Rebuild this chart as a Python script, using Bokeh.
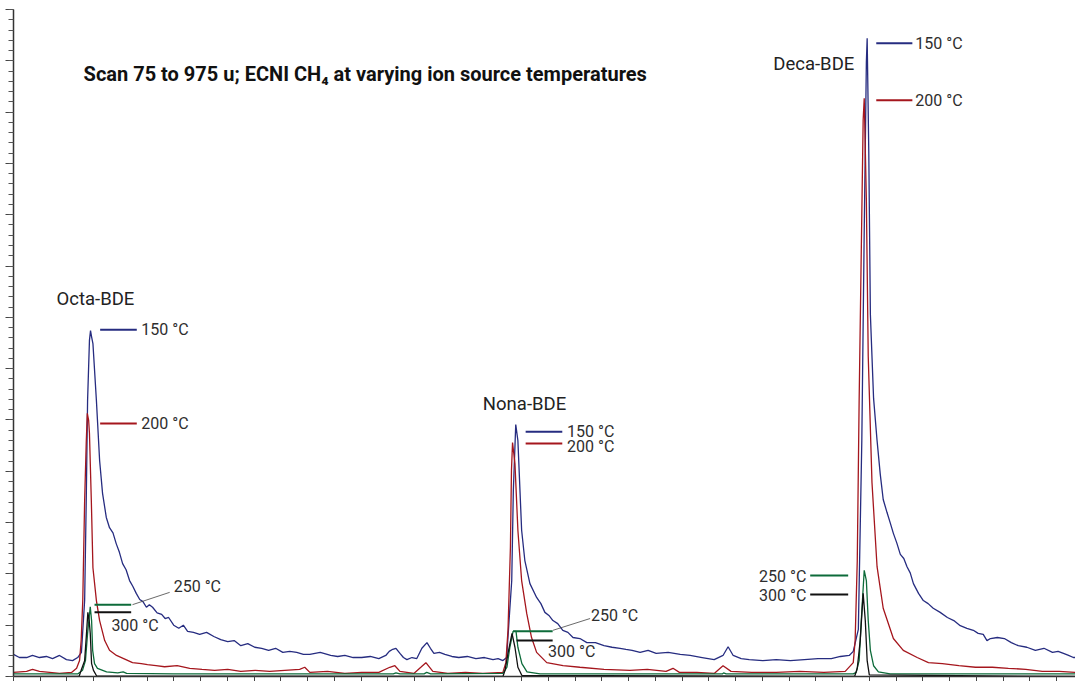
from bokeh.plotting import figure
from bokeh.models import Range1d, SingleIntervalTicker, Label, CustomJSTickFormatter
from bokeh.embed import file_html
from bokeh.resources import INLINE

# retention time (x-tick units), abundance (major y-tick units)
t150 = [(0, 0.43), (0.22, 0.37), (0.49, 0.37), (0.71, 0.41), (0.97, 0.37), (1.23, 0.39), (1.46, 0.35),
        (1.72, 0.41), (1.98, 0.33), (2.21, 0.31), (2.40, 0.37), (2.54, 0.47), (2.66, 1.48), (2.72, 3.43),
        (2.77, 5.38), (2.84, 6.55), (2.88, 6.74), (2.92, 6.62), (2.97, 6.49), (3.10, 5.38), (3.22, 4.21),
        (3.33, 3.57), (3.47, 3.10), (3.59, 2.90), (3.72, 2.80), (3.84, 2.59), (3.96, 2.42), (4.08, 2.20),
        (4.21, 2.08), (4.34, 1.87), (4.46, 1.76), (4.59, 1.62), (4.72, 1.50), (4.84, 1.46), (4.97, 1.35),
        (5.08, 1.40), (5.20, 1.35), (5.37, 1.24), (5.54, 1.21), (5.67, 1.13), (5.80, 1.15), (5.99, 1.00),
        (6.18, 0.94), (6.35, 1.00), (6.51, 0.88), (6.73, 0.86), (6.96, 0.82), (7.22, 0.86), (7.49, 0.78),
        (7.75, 0.72), (8.01, 0.68), (8.25, 0.70), (8.50, 0.60), (8.76, 0.64), (9.02, 0.57), (9.28, 0.55),
        (9.54, 0.51), (9.80, 0.55), (10.07, 0.47), (10.33, 0.49), (10.59, 0.47), (10.84, 0.43), (11.08, 0.43),
        (11.47, 0.47), (11.86, 0.41), (12.12, 0.39), (12.39, 0.41), (12.70, 0.37), (13.02, 0.37), (13.34, 0.39),
        (13.66, 0.35), (13.92, 0.41), (14.05, 0.49), (14.18, 0.53), (14.30, 0.55), (14.45, 0.45), (14.58, 0.37),
        (14.71, 0.33), (14.90, 0.37), (15.08, 0.35), (15.27, 0.55), (15.46, 0.66), (15.59, 0.55), (15.72, 0.45),
        (15.93, 0.47), (16.13, 0.43), (16.39, 0.39), (16.65, 0.37), (16.97, 0.39), (17.29, 0.35), (17.61, 0.37),
        (17.93, 0.33), (18.12, 0.35), (18.30, 0.31), (18.44, 0.37), (18.53, 1.09), (18.63, 1.87), (18.69, 3.63),
        (18.78, 4.91), (18.86, 4.60), (19.00, 2.85), (19.12, 2.26), (19.31, 1.81), (19.56, 1.54), (19.72, 1.42),
        (19.87, 1.25), (20.02, 1.19), (20.17, 1.09), (20.35, 1.03), (20.54, 0.90), (20.73, 0.86), (20.92, 0.76),
        (21.18, 0.74), (21.44, 0.66), (21.76, 0.66), (22.08, 0.60), (22.38, 0.57), (22.68, 0.55), (22.90, 0.53),
        (23.13, 0.51), (23.43, 0.47), (23.73, 0.51), (24.03, 0.45), (24.48, 0.47), (24.93, 0.43), (25.30, 0.41),
        (25.75, 0.37), (26.20, 0.33), (26.53, 0.41), (26.72, 0.58), (26.91, 0.41), (27.21, 0.35), (27.51, 0.33),
        (28.02, 0.31), (28.52, 0.33), (29.05, 0.31), (29.57, 0.33), (30.08, 0.35), (30.58, 0.35), (30.92, 0.39),
        (31.25, 0.41), (31.40, 0.49), (31.59, 0.92), (31.72, 4.60), (31.81, 8.69), (31.89, 11.97), (31.92, 12.44),
        (31.98, 10.25), (32.04, 7.06), (32.16, 5.42), (32.29, 4.60), (32.41, 3.94), (32.52, 3.45), (32.66, 3.20),
        (32.78, 3.00), (32.90, 2.79), (33.03, 2.60), (33.16, 2.38), (33.29, 2.30), (33.41, 2.14), (33.53, 2.02),
        (33.65, 1.81), (33.84, 1.62), (34.02, 1.48), (34.20, 1.42), (34.39, 1.33), (34.65, 1.25), (34.92, 1.15),
        (35.16, 1.09), (35.40, 0.99), (35.65, 0.94), (35.89, 0.90), (36.07, 0.84), (36.26, 0.82), (36.40, 0.70),
        (36.53, 0.74), (36.79, 0.76), (37.05, 0.74), (37.31, 0.66), (37.57, 0.60), (37.89, 0.57), (38.21, 0.51),
        (38.53, 0.55), (38.85, 0.47), (39.06, 0.49), (39.26, 0.45), (39.45, 0.41), (39.63, 0.37), (39.71, 0.37)]

t200 = [(0, 0.08), (0.49, 0.10), (0.71, 0.14), (0.97, 0.10), (1.35, 0.08), (1.72, 0.06), (2.17, 0.08),
        (2.36, 0.16), (2.47, 0.31), (2.53, 0.70), (2.59, 1.48), (2.66, 3.43), (2.72, 4.56), (2.76, 5.13),
        (2.81, 4.99), (2.84, 4.74), (2.91, 3.43), (2.97, 2.12), (3.10, 1.48), (3.22, 1.09), (3.41, 0.70),
        (3.59, 0.51), (3.85, 0.41), (4.12, 0.35), (4.45, 0.27), (4.78, 0.25), (5.01, 0.23), (5.33, 0.21),
        (5.65, 0.19), (6.12, 0.21), (6.59, 0.16), (7.05, 0.14), (7.52, 0.12), (8.01, 0.14), (8.50, 0.10),
        (9.04, 0.12), (9.58, 0.10), (10.14, 0.12), (10.70, 0.14), (10.89, 0.18), (11.08, 0.08), (11.74, 0.10),
        (12.39, 0.06), (13.02, 0.08), (13.66, 0.08), (14.07, 0.18), (14.26, 0.21), (14.45, 0.10), (14.97, 0.06),
        (15.23, 0.18), (15.42, 0.27), (15.68, 0.10), (16.24, 0.06), (16.90, 0.08), (17.55, 0.06), (18.30, 0.08),
        (18.41, 0.27), (18.49, 0.90), (18.58, 2.51), (18.62, 4.02), (18.66, 4.56), (18.75, 4.15), (18.86, 2.85),
        (19.00, 1.87), (19.19, 1.23), (19.37, 0.76), (19.56, 0.47), (19.94, 0.27), (20.55, 0.21), (21.18, 0.18),
        (22.08, 0.14), (23.05, 0.12), (23.70, 0.14), (24.40, 0.10), (24.66, 0.16), (24.90, 0.08), (25.55, 0.08),
        (26.20, 0.06), (26.53, 0.21), (26.83, 0.10), (27.60, 0.08), (28.52, 0.08), (29.40, 0.10), (30.30, 0.08),
        (31.10, 0.10), (31.40, 0.27), (31.47, 0.70), (31.55, 2.26), (31.62, 5.38), (31.70, 8.30), (31.77, 10.84),
        (31.81, 11.27), (31.89, 9.28), (31.96, 6.24), (32.10, 3.78), (32.29, 2.14), (32.52, 1.33), (32.90, 0.74),
        (33.27, 0.51), (33.79, 0.37), (34.21, 0.27), (34.73, 0.25), (35.35, 0.21), (35.97, 0.18), (36.60, 0.18),
        (37.20, 0.16), (37.85, 0.14), (38.47, 0.10), (39.10, 0.10), (39.71, 0.08)]

t250 = [(0, 0.05), (2.40, 0.05), (2.58, 0.12), (2.69, 0.31), (2.77, 0.84), (2.87, 1.36), (2.92, 1.09),
        (2.96, 0.51), (3.03, 0.25), (3.14, 0.16), (3.48, 0.09), (3.90, 0.07), (4.10, 0.09), (4.23, 0.06),
        (6.0, 0.05), (10.0, 0.05), (14.2, 0.05), (14.3, 0.07), (14.45, 0.05), (15.35, 0.05), (15.45, 0.08),
        (15.6, 0.05), (18.30, 0.06), (18.45, 0.18), (18.56, 0.57), (18.68, 0.88), (18.79, 0.88), (18.86, 0.57),
        (19.01, 0.25), (19.20, 0.09), (19.69, 0.05), (26.5, 0.05), (26.55, 0.07), (26.65, 0.05), (31.40, 0.05),
        (31.51, 0.08), (31.62, 0.31), (31.70, 1.09), (31.81, 2.07), (31.89, 1.87), (31.96, 1.09), (32.04, 0.51),
        (32.16, 0.21), (32.34, 0.09), (32.78, 0.05), (39.71, 0.05)]

t300 = [(0, 0.0), (2.45, 0.0), (2.53, 0.12), (2.66, 0.31), (2.73, 0.84), (2.78, 1.25), (2.83, 1.09),
        (2.87, 0.84), (2.92, 0.25), (2.99, 0.12), (3.11, 0.01), (18.30, 0.0), (18.38, 0.12), (18.49, 0.45),
        (18.64, 0.84), (18.75, 0.57), (18.86, 0.18), (19.01, 0.02), (31.45, 0.0), (31.55, 0.16), (31.66, 0.70),
        (31.77, 1.62), (31.85, 1.09), (31.92, 0.31), (32.00, 0.03), (39.71, 0.0)]

series_names = ["150 \u00b0C", "200 \u00b0C", "250 \u00b0C", "300 \u00b0C"]
compounds = ["Octa-BDE", "Nona-BDE", "Deca-BDE"]
title_text = "Scan 75 to 975 u; ECNI CH\u2084 at varying ion source temperatures"

C150, C200, C250, C300 = "#262c80", "#a5161d", "#0d6b3a", "#111111"
FONT = "Roboto"
TXT = "#2e2e2e"

p = figure(width=1075, height=681, x_range=Range1d(0, 39.71), y_range=Range1d(0, 13),
           output_backend="svg", toolbar_location=None,
           min_border_left=13, min_border_right=0, min_border_top=9, min_border_bottom=5)
p.outline_line_color = None
p.xgrid.visible = False
p.ygrid.visible = False
p.background_fill_color = "white"
p.border_fill_color = "white"

p.xaxis.ticker = SingleIntervalTicker(interval=1, num_minor_ticks=0)
p.yaxis.ticker = SingleIntervalTicker(interval=1, num_minor_ticks=5)
for ax in (p.xaxis[0], p.yaxis[0]):
    ax.formatter = CustomJSTickFormatter(code="return ''")
    ax.major_label_standoff = 0
    ax.axis_line_color = "#333333"
    ax.axis_line_width = 1.5
    ax.major_tick_line_color = "#444444"
    ax.minor_tick_line_color = "#555555"
    ax.major_tick_in = 0
    ax.minor_tick_in = 0
p.xaxis.major_tick_out = 5
p.yaxis.major_tick_out = 8
p.yaxis.minor_tick_out = 5

for data, col in ((t150, C150), (t200, C200), (t250, C250), (t300, C300)):
    xs = [d[0] for d in data]
    ys = [d[1] for d in data]
    p.line(xs, ys, line_color=col, line_width=1.3)


def seg(x0, y0, x1, y1, col, w=2):
    p.line([x0, x1], [y0, y1], line_color=col, line_width=w)


def lab(x, y, text, size="16px", style="normal", col=TXT):
    p.add_layout(Label(x=x, y=y, text=text, text_font=FONT, text_font_size=size,
                       text_font_style=style, text_color=col, text_baseline="middle",
                       text_align="left"))


# title
lab(2.62, 11.75, title_text, size="20px", style="bold", col="#111111")

# Octa-BDE
lab(1.61, 7.35, compounds[0], size="18.5px", col="#222222")
seg(3.24, 6.76, 4.61, 6.76, C150)
lab(4.78, 6.76, series_names[0])
seg(3.24, 4.93, 4.61, 4.93, C200)
lab(4.78, 4.93, series_names[1])
seg(3.03, 1.40, 4.40, 1.40, C250)
seg(3.03, 1.25, 4.40, 1.25, C300)
seg(4.45, 1.40, 5.84, 1.64, "#444444", 0.8)
lab(5.99, 1.75, series_names[2])
lab(3.66, 0.99, series_names[3])

# Nona-BDE
lab(17.55, 5.32, compounds[1], size="18.5px", col="#222222")
seg(19.15, 4.77, 20.52, 4.77, C150)
lab(20.70, 4.77, series_names[0])
seg(19.15, 4.54, 20.52, 4.54, C200)
lab(20.70, 4.48, series_names[1])
seg(18.68, 0.88, 20.16, 0.88, C250)
seg(18.81, 0.70, 20.16, 0.70, C300)
seg(20.17, 0.90, 21.56, 1.13, "#444444", 0.8)
lab(21.59, 1.19, series_names[2])
lab(19.99, 0.49, series_names[3])

# Deca-BDE
lab(28.41, 11.93, compounds[2], size="18.5px", col="#222222")
seg(32.26, 12.34, 33.61, 12.34, C150)
lab(33.72, 12.34, series_names[0])
seg(32.26, 11.23, 33.61, 11.23, C200)
lab(33.72, 11.23, series_names[1])
seg(29.79, 1.97, 31.21, 1.97, C250)
lab(27.88, 1.95, series_names[2])
seg(29.79, 1.60, 31.21, 1.60, C300)
lab(27.88, 1.58, series_names[3])

open("out.html", "w").write(file_html(p, INLINE))
